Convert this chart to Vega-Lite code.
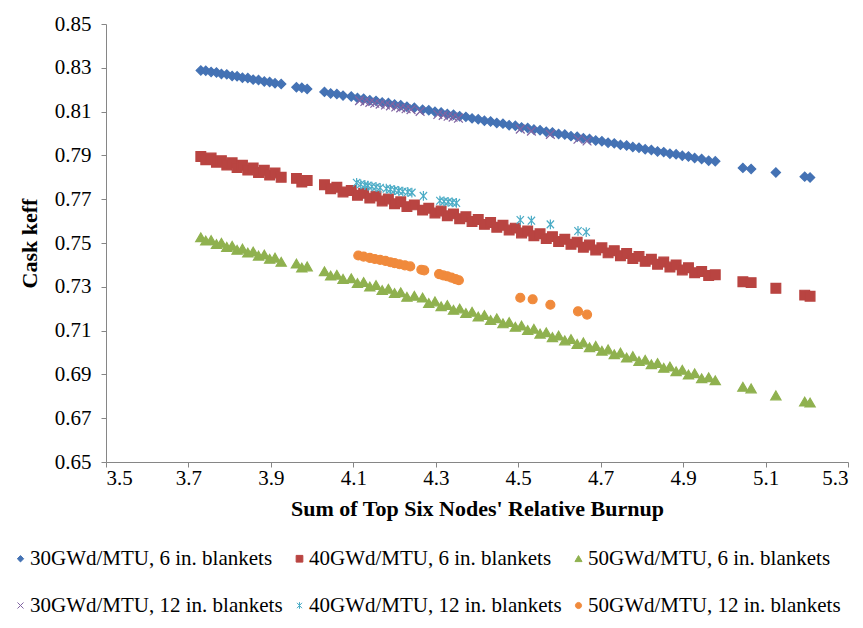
{
  "$schema": "https://vega.github.io/schema/vega-lite/v6.json",
  "width": 742,
  "height": 438,
  "autosize": {"type": "none"},
  "padding": {"left": 106, "top": 24, "right": 15, "bottom": 166},
  "background": "white",
  "config": {
    "view": {"stroke": null},
    "axis": {
      "labelFont": "Liberation Serif",
      "labelFontSize": 21,
      "labelColor": "#000000",
      "titleFont": "Liberation Serif",
      "titleFontSize": 22,
      "titleFontWeight": "bold",
      "titleColor": "#000000",
      "domainColor": "#868686",
      "tickColor": "#868686",
      "tickSize": 5,
      "grid": false
    }
  },
  "data": {
    "values": [
      {"s":"a","x":3.730,"y":0.8288},{"s":"a","x":3.742,"y":0.8287},{"s":"a","x":3.755,"y":0.8281},{"s":"a","x":3.768,"y":0.8279},
      {"s":"a","x":3.780,"y":0.8272},{"s":"a","x":3.793,"y":0.8270},{"s":"a","x":3.806,"y":0.8263},{"s":"a","x":3.818,"y":0.8261},
      {"s":"a","x":3.831,"y":0.8255},{"s":"a","x":3.844,"y":0.8253},{"s":"a","x":3.857,"y":0.8246},{"s":"a","x":3.870,"y":0.8244},
      {"s":"a","x":3.884,"y":0.8237},{"s":"a","x":3.897,"y":0.8235},{"s":"a","x":3.910,"y":0.8229},{"s":"a","x":3.925,"y":0.8226},
      {"s":"a","x":3.962,"y":0.8211},{"s":"a","x":3.975,"y":0.8209},{"s":"a","x":3.988,"y":0.8203},
      {"s":"a","x":4.030,"y":0.8190},{"s":"a","x":4.045,"y":0.8183},{"s":"a","x":4.060,"y":0.8180},{"s":"a","x":4.075,"y":0.8173},
      {"s":"a","x":4.095,"y":0.8169},{"s":"a","x":4.110,"y":0.8162},{"s":"a","x":4.125,"y":0.8159},{"s":"a","x":4.140,"y":0.8152},
      {"s":"a","x":4.155,"y":0.8149},{"s":"a","x":4.170,"y":0.8142},{"s":"a","x":4.185,"y":0.8139},{"s":"a","x":4.200,"y":0.8132},
      {"s":"a","x":4.215,"y":0.8129},{"s":"a","x":4.230,"y":0.8122},{"s":"a","x":4.248,"y":0.8118},
      {"s":"a","x":4.268,"y":0.8109},{"s":"a","x":4.283,"y":0.8106},{"s":"a","x":4.298,"y":0.8099},{"s":"a","x":4.313,"y":0.8096},
      {"s":"a","x":4.328,"y":0.8089},{"s":"a","x":4.343,"y":0.8086},{"s":"a","x":4.358,"y":0.8079},{"s":"a","x":4.373,"y":0.8076},
      {"s":"a","x":4.388,"y":0.8069},{"s":"a","x":4.403,"y":0.8065},{"s":"a","x":4.418,"y":0.8058},{"s":"a","x":4.433,"y":0.8055},
      {"s":"a","x":4.448,"y":0.8048},{"s":"a","x":4.463,"y":0.8045},{"s":"a","x":4.478,"y":0.8038},{"s":"a","x":4.493,"y":0.8035},
      {"s":"a","x":4.508,"y":0.8028},{"s":"a","x":4.523,"y":0.8025},{"s":"a","x":4.538,"y":0.8018},{"s":"a","x":4.553,"y":0.8015},
      {"s":"a","x":4.568,"y":0.8008},{"s":"a","x":4.583,"y":0.8005},{"s":"a","x":4.598,"y":0.7998},{"s":"a","x":4.613,"y":0.7995},
      {"s":"a","x":4.628,"y":0.7988},{"s":"a","x":4.643,"y":0.7985},{"s":"a","x":4.658,"y":0.7978},{"s":"a","x":4.673,"y":0.7975},
      {"s":"a","x":4.688,"y":0.7968},{"s":"a","x":4.703,"y":0.7965},{"s":"a","x":4.718,"y":0.7958},{"s":"a","x":4.733,"y":0.7955},
      {"s":"a","x":4.748,"y":0.7948},{"s":"a","x":4.763,"y":0.7945},{"s":"a","x":4.778,"y":0.7938},{"s":"a","x":4.793,"y":0.7935},
      {"s":"a","x":4.808,"y":0.7928},{"s":"a","x":4.823,"y":0.7925},{"s":"a","x":4.838,"y":0.7918},{"s":"a","x":4.853,"y":0.7915},
      {"s":"a","x":4.868,"y":0.7908},{"s":"a","x":4.883,"y":0.7905},{"s":"a","x":4.898,"y":0.7898},{"s":"a","x":4.913,"y":0.7895},
      {"s":"a","x":4.928,"y":0.7888},{"s":"a","x":4.945,"y":0.7884},{"s":"a","x":4.962,"y":0.7876},{"s":"a","x":4.978,"y":0.7873},
      {"s":"a","x":5.045,"y":0.7843},{"s":"a","x":5.065,"y":0.7838},{"s":"a","x":5.125,"y":0.7822},{"s":"a","x":5.195,"y":0.7803},{"s":"a","x":5.208,"y":0.7799},

      {"s":"b","x":3.730,"y":0.7895},{"s":"b","x":3.742,"y":0.7880},{"s":"b","x":3.755,"y":0.7888},{"s":"b","x":3.768,"y":0.7869},
      {"s":"b","x":3.780,"y":0.7876},{"s":"b","x":3.793,"y":0.7856},{"s":"b","x":3.806,"y":0.7866},{"s":"b","x":3.818,"y":0.7845},
      {"s":"b","x":3.831,"y":0.7855},{"s":"b","x":3.844,"y":0.7833},{"s":"b","x":3.857,"y":0.7843},{"s":"b","x":3.870,"y":0.7822},
      {"s":"b","x":3.884,"y":0.7832},{"s":"b","x":3.897,"y":0.7810},{"s":"b","x":3.910,"y":0.7820},{"s":"b","x":3.925,"y":0.7800},
      {"s":"b","x":3.962,"y":0.7795},{"s":"b","x":3.975,"y":0.7778},{"s":"b","x":3.988,"y":0.7785},
      {"s":"b","x":4.030,"y":0.7766},{"s":"b","x":4.045,"y":0.7748},{"s":"b","x":4.060,"y":0.7755},{"s":"b","x":4.075,"y":0.7733},
      {"s":"b","x":4.095,"y":0.7740},{"s":"b","x":4.110,"y":0.7718},{"s":"b","x":4.125,"y":0.7727},{"s":"b","x":4.140,"y":0.7705},
      {"s":"b","x":4.155,"y":0.7714},{"s":"b","x":4.170,"y":0.7692},{"s":"b","x":4.185,"y":0.7701},{"s":"b","x":4.200,"y":0.7679},
      {"s":"b","x":4.215,"y":0.7688},{"s":"b","x":4.230,"y":0.7666},{"s":"b","x":4.248,"y":0.7674},
      {"s":"b","x":4.268,"y":0.7650},{"s":"b","x":4.283,"y":0.7659},{"s":"b","x":4.298,"y":0.7637},{"s":"b","x":4.313,"y":0.7646},
      {"s":"b","x":4.328,"y":0.7624},{"s":"b","x":4.343,"y":0.7633},{"s":"b","x":4.358,"y":0.7611},{"s":"b","x":4.373,"y":0.7620},
      {"s":"b","x":4.388,"y":0.7598},{"s":"b","x":4.403,"y":0.7607},{"s":"b","x":4.418,"y":0.7585},{"s":"b","x":4.433,"y":0.7594},
      {"s":"b","x":4.448,"y":0.7572},{"s":"b","x":4.463,"y":0.7581},{"s":"b","x":4.478,"y":0.7559},{"s":"b","x":4.493,"y":0.7568},
      {"s":"b","x":4.508,"y":0.7546},{"s":"b","x":4.523,"y":0.7555},{"s":"b","x":4.538,"y":0.7533},{"s":"b","x":4.553,"y":0.7542},
      {"s":"b","x":4.568,"y":0.7520},{"s":"b","x":4.583,"y":0.7529},{"s":"b","x":4.598,"y":0.7507},{"s":"b","x":4.613,"y":0.7517},
      {"s":"b","x":4.628,"y":0.7494},{"s":"b","x":4.643,"y":0.7504},{"s":"b","x":4.658,"y":0.7481},{"s":"b","x":4.673,"y":0.7491},
      {"s":"b","x":4.688,"y":0.7468},{"s":"b","x":4.703,"y":0.7478},{"s":"b","x":4.718,"y":0.7455},{"s":"b","x":4.733,"y":0.7465},
      {"s":"b","x":4.748,"y":0.7442},{"s":"b","x":4.763,"y":0.7452},{"s":"b","x":4.778,"y":0.7429},{"s":"b","x":4.793,"y":0.7439},
      {"s":"b","x":4.808,"y":0.7416},{"s":"b","x":4.823,"y":0.7426},{"s":"b","x":4.838,"y":0.7403},{"s":"b","x":4.853,"y":0.7413},
      {"s":"b","x":4.868,"y":0.7390},{"s":"b","x":4.883,"y":0.7400},{"s":"b","x":4.898,"y":0.7377},{"s":"b","x":4.913,"y":0.7387},
      {"s":"b","x":4.928,"y":0.7364},{"s":"b","x":4.945,"y":0.7370},{"s":"b","x":4.962,"y":0.7352},{"s":"b","x":4.978,"y":0.7355},
      {"s":"b","x":5.045,"y":0.7323},{"s":"b","x":5.065,"y":0.7319},{"s":"b","x":5.125,"y":0.7293},{"s":"b","x":5.195,"y":0.7262},{"s":"b","x":5.208,"y":0.7257},

      {"s":"c","x":3.730,"y":0.7525},{"s":"c","x":3.742,"y":0.7510},{"s":"c","x":3.755,"y":0.7512},{"s":"c","x":3.768,"y":0.7494},
      {"s":"c","x":3.780,"y":0.7500},{"s":"c","x":3.793,"y":0.7481},{"s":"c","x":3.806,"y":0.7486},{"s":"c","x":3.818,"y":0.7468},
      {"s":"c","x":3.831,"y":0.7473},{"s":"c","x":3.844,"y":0.7455},{"s":"c","x":3.857,"y":0.7460},{"s":"c","x":3.870,"y":0.7441},
      {"s":"c","x":3.884,"y":0.7446},{"s":"c","x":3.897,"y":0.7427},{"s":"c","x":3.910,"y":0.7432},{"s":"c","x":3.925,"y":0.7413},
      {"s":"c","x":3.962,"y":0.7405},{"s":"c","x":3.975,"y":0.7387},{"s":"c","x":3.988,"y":0.7392},
      {"s":"c","x":4.030,"y":0.7370},{"s":"c","x":4.045,"y":0.7350},{"s":"c","x":4.060,"y":0.7354},{"s":"c","x":4.075,"y":0.7335},
      {"s":"c","x":4.095,"y":0.7338},{"s":"c","x":4.110,"y":0.7316},{"s":"c","x":4.125,"y":0.7321},{"s":"c","x":4.140,"y":0.7300},
      {"s":"c","x":4.155,"y":0.7307},{"s":"c","x":4.170,"y":0.7284},{"s":"c","x":4.185,"y":0.7290},{"s":"c","x":4.200,"y":0.7270},
      {"s":"c","x":4.215,"y":0.7274},{"s":"c","x":4.230,"y":0.7253},{"s":"c","x":4.248,"y":0.7258},
      {"s":"c","x":4.268,"y":0.7250},{"s":"c","x":4.283,"y":0.7225},{"s":"c","x":4.298,"y":0.7232},{"s":"c","x":4.313,"y":0.7210},
      {"s":"c","x":4.328,"y":0.7216},{"s":"c","x":4.343,"y":0.7194},{"s":"c","x":4.358,"y":0.7200},{"s":"c","x":4.373,"y":0.7179},
      {"s":"c","x":4.388,"y":0.7185},{"s":"c","x":4.403,"y":0.7163},{"s":"c","x":4.418,"y":0.7170},{"s":"c","x":4.433,"y":0.7147},
      {"s":"c","x":4.448,"y":0.7155},{"s":"c","x":4.463,"y":0.7132},{"s":"c","x":4.478,"y":0.7138},{"s":"c","x":4.493,"y":0.7116},
      {"s":"c","x":4.508,"y":0.7122},{"s":"c","x":4.523,"y":0.7101},{"s":"c","x":4.538,"y":0.7107},{"s":"c","x":4.553,"y":0.7085},
      {"s":"c","x":4.568,"y":0.7091},{"s":"c","x":4.583,"y":0.7069},{"s":"c","x":4.598,"y":0.7076},{"s":"c","x":4.613,"y":0.7054},
      {"s":"c","x":4.628,"y":0.7060},{"s":"c","x":4.643,"y":0.7038},{"s":"c","x":4.658,"y":0.7045},{"s":"c","x":4.673,"y":0.7023},
      {"s":"c","x":4.688,"y":0.7029},{"s":"c","x":4.703,"y":0.7007},{"s":"c","x":4.718,"y":0.7013},{"s":"c","x":4.733,"y":0.6991},
      {"s":"c","x":4.748,"y":0.6998},{"s":"c","x":4.763,"y":0.6976},{"s":"c","x":4.778,"y":0.6982},{"s":"c","x":4.793,"y":0.6960},
      {"s":"c","x":4.808,"y":0.6966},{"s":"c","x":4.823,"y":0.6945},{"s":"c","x":4.838,"y":0.6951},{"s":"c","x":4.853,"y":0.6929},
      {"s":"c","x":4.868,"y":0.6935},{"s":"c","x":4.883,"y":0.6913},{"s":"c","x":4.898,"y":0.6920},{"s":"c","x":4.913,"y":0.6898},
      {"s":"c","x":4.928,"y":0.6904},{"s":"c","x":4.945,"y":0.6881},{"s":"c","x":4.962,"y":0.6886},{"s":"c","x":4.978,"y":0.6872},
      {"s":"c","x":5.045,"y":0.6842},{"s":"c","x":5.065,"y":0.6835},{"s":"c","x":5.125,"y":0.6803},{"s":"c","x":5.195,"y":0.6775},{"s":"c","x":5.208,"y":0.6770},

      {"s":"d","x":4.115,"y":0.8150},{"s":"d","x":4.128,"y":0.8146},{"s":"d","x":4.140,"y":0.8142},{"s":"d","x":4.152,"y":0.8138},
      {"s":"d","x":4.165,"y":0.8134},{"s":"d","x":4.178,"y":0.8130},{"s":"d","x":4.190,"y":0.8126},{"s":"d","x":4.203,"y":0.8121},
      {"s":"d","x":4.215,"y":0.8117},{"s":"d","x":4.228,"y":0.8113},{"s":"d","x":4.240,"y":0.8109},{"s":"d","x":4.262,"y":0.8101},
      {"s":"d","x":4.305,"y":0.8087},{"s":"d","x":4.318,"y":0.8083},{"s":"d","x":4.330,"y":0.8079},{"s":"d","x":4.342,"y":0.8075},
      {"s":"d","x":4.355,"y":0.8070},{"s":"d","x":4.505,"y":0.8020},{"s":"d","x":4.532,"y":0.8011},{"s":"d","x":4.578,"y":0.7996},
      {"s":"d","x":4.645,"y":0.7974},{"s":"d","x":4.667,"y":0.7966},

      {"s":"e","x":4.108,"y":0.7775},{"s":"e","x":4.118,"y":0.7768},{"s":"e","x":4.128,"y":0.7765},{"s":"e","x":4.135,"y":0.7762},
      {"s":"e","x":4.145,"y":0.7758},{"s":"e","x":4.155,"y":0.7756},{"s":"e","x":4.165,"y":0.7752},{"s":"e","x":4.180,"y":0.7748},
      {"s":"e","x":4.190,"y":0.7745},{"s":"e","x":4.200,"y":0.7742},{"s":"e","x":4.210,"y":0.7738},{"s":"e","x":4.220,"y":0.7735},
      {"s":"e","x":4.232,"y":0.7733},{"s":"e","x":4.242,"y":0.7730},{"s":"e","x":4.270,"y":0.7715},{"s":"e","x":4.310,"y":0.7693},
      {"s":"e","x":4.320,"y":0.7690},{"s":"e","x":4.330,"y":0.7688},{"s":"e","x":4.340,"y":0.7685},{"s":"e","x":4.350,"y":0.7683},
      {"s":"e","x":4.505,"y":0.7605},{"s":"e","x":4.532,"y":0.7602},{"s":"e","x":4.578,"y":0.7585},{"s":"e","x":4.645,"y":0.7555},
      {"s":"e","x":4.665,"y":0.7550},

      {"s":"f","x":4.112,"y":0.7443},{"s":"f","x":4.125,"y":0.7438},{"s":"f","x":4.140,"y":0.7432},{"s":"f","x":4.152,"y":0.7427},
      {"s":"f","x":4.165,"y":0.7423},{"s":"f","x":4.178,"y":0.7418},{"s":"f","x":4.190,"y":0.7412},{"s":"f","x":4.200,"y":0.7408},
      {"s":"f","x":4.212,"y":0.7403},{"s":"f","x":4.225,"y":0.7398},{"s":"f","x":4.238,"y":0.7393},{"s":"f","x":4.265,"y":0.7378},
      {"s":"f","x":4.272,"y":0.7375},{"s":"f","x":4.308,"y":0.7358},{"s":"f","x":4.318,"y":0.7352},{"s":"f","x":4.328,"y":0.7348},
      {"s":"f","x":4.338,"y":0.7342},{"s":"f","x":4.348,"y":0.7335},{"s":"f","x":4.356,"y":0.7330},{"s":"f","x":4.505,"y":0.7250},
      {"s":"f","x":4.535,"y":0.7243},{"s":"f","x":4.578,"y":0.7218},{"s":"f","x":4.645,"y":0.7188},{"s":"f","x":4.667,"y":0.7173}
    ]
  },
  "mark": {"type": "point", "filled": true, "opacity": 1, "strokeWidth": 1.2, "size": 95},
  "encoding": {
    "x": {
      "field": "x", "type": "quantitative",
      "scale": {"domain": [3.5, 5.3], "nice": false, "zero": false},
      "axis": {
        "title": "Sum of Top Six Nodes' Relative Burnup",
        "values": [3.5, 3.7, 3.9, 4.1, 4.3, 4.5, 4.7, 4.9, 5.1, 5.3],
        "format": ".1f",
        "labelPadding": 0,
        "titlePadding": 10
      }
    },
    "y": {
      "field": "y", "type": "quantitative",
      "scale": {"domain": [0.65, 0.85], "nice": false, "zero": false},
      "axis": {
        "title": "Cask keff",
        "values": [0.65, 0.67, 0.69, 0.71, 0.73, 0.75, 0.77, 0.79, 0.81, 0.83, 0.85],
        "format": ".2f",
        "labelPadding": 10,
        "titlePadding": 13
      }
    },
    "color": {
      "field": "s", "type": "nominal",
      "scale": {"domain": ["a", "b", "c", "d", "e", "f"], "range": ["#4472B4", "#B94441", "#8FB14F", "#8064A2", "#4BACC6", "#F08A3C"]},
      "legend": {
        "orient": "none",
        "legendX": -96,
        "legendY": 524,
        "direction": "horizontal",
        "columns": 3,
        "columnPadding": 6,
        "rowPadding": 25,
        "gridAlign": "all",
        "title": null,
        "padding": 0,
        "labelFont": "Liberation Serif",
        "labelFontSize": 21,
        "labelColor": "#000000",
        "labelLimit": 0,
        "labelOffset": -1,
        "symbolSize": 45,
        "symbolStrokeWidth": 1,
        "labelExpr": "datum.label == 'a' ? '30GWd/MTU, 6 in. blankets' : datum.label == 'b' ? '40GWd/MTU, 6 in. blankets' : datum.label == 'c' ? '50GWd/MTU, 6 in. blankets' : datum.label == 'd' ? '30GWd/MTU, 12 in. blankets' : datum.label == 'e' ? '40GWd/MTU, 12 in. blankets' : '50GWd/MTU, 12 in. blankets'"
      }
    },
    "stroke": {
      "field": "s", "type": "nominal",
      "scale": {"domain": ["a", "b", "c", "d", "e", "f"], "range": ["#4472B4", "#B94441", "#8FB14F", "#8064A2", "#4BACC6", "#F08A3C"]}
    },
    "shape": {
      "field": "s", "type": "nominal",
      "scale": {"domain": ["a", "b", "c", "d", "e", "f"], "range": ["M-0.95,0L0,-0.95L0.95,0L0,0.95Z", "M-1,-1L1,-1L1,1L-1,1Z", "M-1.05,0.85L1.05,0.85L0,-0.95Z", "M-0.9,-0.9L0.9,0.9M0.9,-0.9L-0.9,0.9", "M-0.75,-0.8L0.75,0.8M0.75,-0.8L-0.75,0.8M0,-1L0,1", "M0.92,0A0.92,0.92,0,1,1,-0.92,0A0.92,0.92,0,1,1,0.92,0Z"]}
    }
  }
}
